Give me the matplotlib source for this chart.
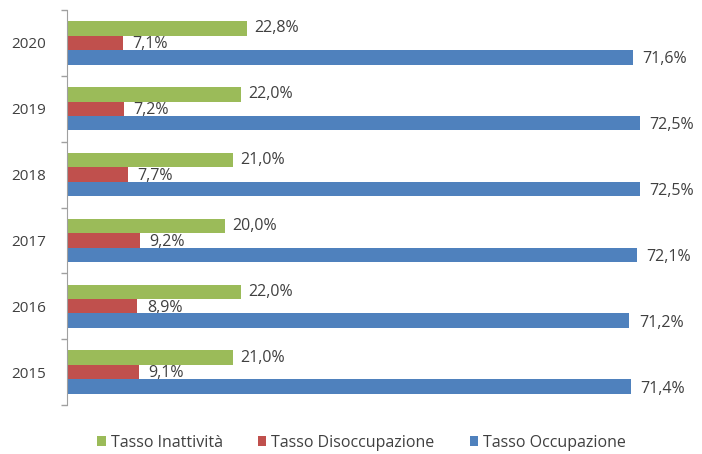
import numpy as np
import matplotlib.pyplot as plt
from matplotlib.patches import Patch

years = ['2015', '2016', '2017', '2018', '2019', '2020']
inattivita = [21.0, 22.0, 20.0, 21.0, 22.0, 22.8]
disoccupazione = [9.1, 8.9, 9.2, 7.7, 7.2, 7.1]
occupazione = [71.4, 71.2, 72.1, 72.5, 72.5, 71.6]

series_names = ['Tasso Inattività', 'Tasso Disoccupazione', 'Tasso Occupazione']
colors = ['#9BBB59', '#C0504D', '#4F81BD']

plt.rcParams['font.family'] = ['Open Sans', 'DejaVu Sans']
text_color = '#404040'


def fmt(v):
    return f"{v:.1f}%".replace('.', ',')


fig = plt.figure(figsize=(7.02, 4.54), dpi=100)
ax = fig.add_axes([67 / 702, 1 - 405 / 454, 632 / 702, 395 / 454])

y = np.arange(len(years))
h = 0.22
offsets = [h, 0, -h]
data = [inattivita, disoccupazione, occupazione]

for vals, off, col in zip(data, offsets, colors):
    ax.barh(y + off, vals, height=h, color=col, edgecolor='none', zorder=2)

lab_size = 11.5
for i in range(len(years)):
    ax.text(inattivita[i] + 0.9, y[i] + h, fmt(inattivita[i]), va='center',
            ha='left', fontsize=lab_size, color=text_color, zorder=3)
    ax.text(disoccupazione[i] + 1.2, y[i] - 0.02, fmt(disoccupazione[i]), va='center',
            ha='left', fontsize=lab_size, color=text_color, zorder=1,
            bbox=dict(facecolor='white', edgecolor='none', pad=0.5))
    ax.text(occupazione[i] + 1.2, y[i] - h - 0.03, fmt(occupazione[i]), va='center',
            ha='left', fontsize=lab_size, color=text_color, zorder=3)

ax.set_xlim(0, 80)
ax.set_ylim(-0.5, len(years) - 0.5)
ax.set_yticks(y)
ax.set_yticklabels(years, fontsize=11, color=text_color)
ax.set_yticks(np.arange(-0.5, len(years), 1.0), minor=True)
ax.tick_params(axis='y', which='major', length=0, pad=15)
ax.tick_params(axis='y', which='minor', length=4, color='#A0A0A0', width=1)
ax.set_xticks([])
for s in ['top', 'right', 'bottom']:
    ax.spines[s].set_visible(False)
ax.spines['left'].set_color('#A0A0A0')

handles = [Patch(facecolor=c, edgecolor='none') for c in colors]
fig.legend(handles, series_names, loc='center', bbox_to_anchor=(0.515, 0.025),
           ncol=3, frameon=False, fontsize=11.5, handlelength=0.55, handleheight=0.55,
           handletextpad=0.3, columnspacing=2.2, labelcolor=text_color)

fig.savefig('out.png', dpi=100)
